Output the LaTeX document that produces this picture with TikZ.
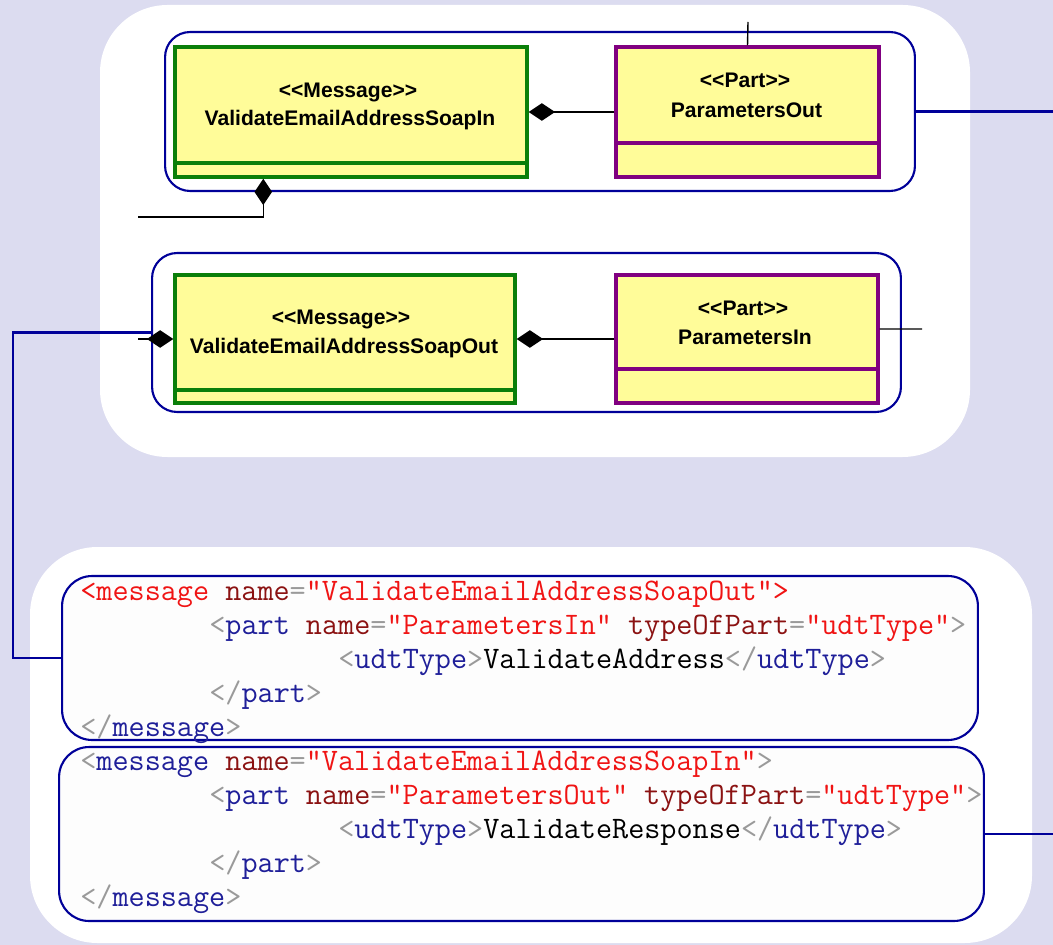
\documentclass[tikz,border=0pt]{standalone}
\usepackage{fontspec}
\newfontfamily\umlfont{Liberation Sans}
\usetikzlibrary{arrows.meta,positioning}

\definecolor{bglavender}{HTML}{DCDCF0}
\definecolor{boxyellow}{HTML}{FFFC99}
\definecolor{msggreen}{HTML}{0A7F0A}
\definecolor{partpurple}{HTML}{800080}
\definecolor{wrapblue}{HTML}{000099}
\definecolor{codebg}{HTML}{FDFDFD}
\definecolor{xvalred}{HTML}{F01414}
\definecolor{xattrred}{HTML}{8B1212}
\definecolor{xtagblue}{HTML}{1F1F99}
\definecolor{xpuncgray}{HTML}{9A9A9A}

\newcommand{\xmlval}[1]{\textcolor{xvalred}{#1}}
\newcommand{\xmlattr}[1]{\textcolor{xattrred}{#1}}
\newcommand{\xmltag}[1]{\textcolor{xtagblue}{#1}}
\newcommand{\xmlpunc}[1]{\textcolor{xpuncgray}{#1}}

\tikzset{
  umlbox/.style={draw, line width=2pt, fill=boxyellow, inner sep=0pt},
  msgbox/.style={umlbox, draw=msggreen},
  partbox/.style={umlbox, draw=partpurple},
  wrapbox/.style={draw=wrapblue, line width=1.2pt, rounded corners=0.5cm, inner sep=0pt},
  codebox/.style={wrapbox, fill=codebg, rounded corners=0.6cm},
  umltext/.style={font=\umlfont\bfseries\fontsize{12}{14}\selectfont, inner sep=0pt},
  codeline/.style={font=\ttfamily\fontsize{17.8}{20}\selectfont, anchor=mid west, inner sep=0pt},
  conn/.style={line width=0.8pt},
  blueconn/.style={draw=wrapblue, line width=1.2pt},
  comp/.style={conn, -{Diamond[length=15pt,width=10pt]}},
}

\begin{document}
\begin{tikzpicture}[x=0.02cm,y=-0.02cm]
	\useasboundingbox (0,0) rectangle (1053,945);
	%background and panels
	\fill[bglavender] (0,0) rectangle (1053,945);
	\fill[white, rounded corners=1.35cm] (100,5) rectangle (970,457);
	\fill[white, rounded corners=1.35cm] (30,547) rectangle (1032,943);
	%frames
	\node[wrapbox, minimum width=15cm, minimum height=3.18cm] (wrapIn) at (540,111.5) {};
	\node[wrapbox, minimum width=14.98cm, minimum height=3.18cm] (wrapOut) at (526.5,332.5) {};
	\node[codebox, minimum width=18.32cm, minimum height=3.28cm] (codeOut) at (520,658) {};
	\node[codebox, minimum width=18.5cm, minimum height=3.48cm] (codeIn) at (521.5,834) {};
	%blue links
	\coordinate (rightIn) at (1053,111.5);
	\coordinate (bendOut) at (13,332.5);
	\coordinate (rightCode) at (1053,834);
	\draw[blueconn] (wrapIn.east) -- (rightIn);
	\draw[blueconn] (wrapOut.west) -- (bendOut) |- (codeOut.west);
	\draw[blueconn] (codeIn.east) -- (rightCode);
	%classes
	\node[msgbox, minimum width=7.04cm, minimum height=2.6cm] (msgIn) at (351,112) {};
	\node[partbox, minimum width=5.26cm, minimum height=2.6cm] (partOut) at (747.5,112) {};
	\node[msgbox, minimum width=6.8cm, minimum height=2.56cm] (msgOut) at (345,339) {};
	\node[partbox, minimum width=5.24cm, minimum height=2.56cm] (partIn) at (747,339) {};
	\draw[msggreen, line width=2pt] ([yshift=0.32cm]msgIn.south west) -- ([yshift=0.32cm]msgIn.south east);
	\draw[partpurple, line width=2pt] ([yshift=0.72cm]partOut.south west) -- ([yshift=0.72cm]partOut.south east);
	\draw[msggreen, line width=2pt] ([yshift=0.3cm]msgOut.south west) -- ([yshift=0.3cm]msgOut.south east);
	\draw[partpurple, line width=2pt] ([yshift=0.72cm]partIn.south west) -- ([yshift=0.72cm]partIn.south east);
	%class names
	\node[umltext] (msgInStereo) at (348,92) {<<Message>>};
	\node[umltext] (msgInName) at (350,120) {ValidateEmailAddressSoapIn};
	\node[umltext] (partOutStereo) at (745,80) {<<Part>>};
	\node[umltext] (partOutName) at (746.5,110) {ParametersOut};
	\node[umltext] (msgOutStereo) at (341,319) {<<Message>>};
	\node[umltext] (msgOutName) at (344,348) {ValidateEmailAddressSoapOut};
	\node[umltext] (partInStereo) at (743,308) {<<Part>>};
	\node[umltext] (partInName) at (745,337) {ParametersIn};
	%black links
	\coordinate (topOut) at (748,22);
	\coordinate (leftIn) at (138,217);
	\coordinate (leftOut) at (138,339);
	\coordinate (rightPart) at (922,329);
	\draw[comp] (partOut.west) -- (msgIn.east);
	\draw[comp] (partIn.west) -- (msgOut.east);
	\draw[comp] (leftIn) -| ([xshift=1.8cm]msgIn.south west);
	\draw[comp] (leftOut) -- (msgOut.west);
	\draw[conn] (partOut.north) -- (topOut);
	\draw[conn] ([yshift=0.2cm]partIn.east) -- (rightPart);
	%code out
	\node[codeline] (co1) at (80,597) {\xmlval{<message} \xmlattr{name}\xmlpunc{=}\xmlval{"ValidateEmailAddressSoapOut">}};
	\node[codeline] (co2) at (209,631) {\xmlpunc{<}\xmltag{part} \xmlattr{name}\xmlpunc{=}\xmlval{"ParametersIn"} \xmlattr{typeOfPart}\xmlpunc{=}\xmlval{"udtType"}\xmlpunc{>}};
	\node[codeline] (co3) at (338,665) {\xmlpunc{<}\xmltag{udtType}\xmlpunc{>}ValidateAddress\xmlpunc{</}\xmltag{udtType}\xmlpunc{>}};
	\node[codeline] (co4) at (209,699) {\xmlpunc{</}\xmltag{part}\xmlpunc{>}};
	\node[codeline] (co5) at (80,733) {\xmlpunc{</}\xmltag{message}\xmlpunc{>}};
	%code in
	\node[codeline] (ci1) at (80,767) {\xmlpunc{<}\xmltag{message} \xmlattr{name}\xmlpunc{=}\xmlval{"ValidateEmailAddressSoapIn"}\xmlpunc{>}};
	\node[codeline] (ci2) at (209,801) {\xmlpunc{<}\xmltag{part} \xmlattr{name}\xmlpunc{=}\xmlval{"ParametersOut"} \xmlattr{typeOfPart}\xmlpunc{=}\xmlval{"udtType"}\xmlpunc{>}};
	\node[codeline] (ci3) at (338,835) {\xmlpunc{<}\xmltag{udtType}\xmlpunc{>}ValidateResponse\xmlpunc{</}\xmltag{udtType}\xmlpunc{>}};
	\node[codeline] (ci4) at (209,869) {\xmlpunc{</}\xmltag{part}\xmlpunc{>}};
	\node[codeline] (ci5) at (80,903) {\xmlpunc{</}\xmltag{message}\xmlpunc{>}};
\end{tikzpicture}
\end{document}
